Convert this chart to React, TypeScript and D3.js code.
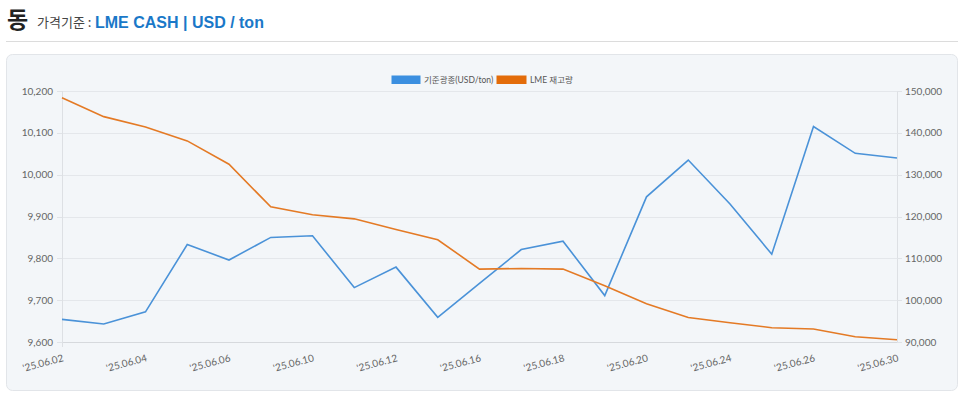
import React, { useEffect, useRef } from "react";
import * as d3 from "d3";

const dates = ["'25.06.02","'25.06.03","'25.06.04","'25.06.05","'25.06.06","'25.06.09","'25.06.10","'25.06.11","'25.06.12","'25.06.13","'25.06.16","'25.06.17","'25.06.18","'25.06.19","'25.06.20","'25.06.23","'25.06.24","'25.06.25","'25.06.26","'25.06.27","'25.06.30"];
const priceValues = [9654,9643,9672,9833,9796,9850,9854,9730,9779,9659,9740,9821,9841,9711,9947,10035,9930,9810,10115,10051,10040];
const stockValues = [148400,143870,141410,138070,132500,122300,120400,119440,116890,114430,107430,107570,107430,103440,99150,95850,94610,93410,93100,91270,90550];
const leftTicks = [9600,9700,9800,9900,10000,10100,10200];
const rightTicks = [90000,100000,110000,120000,130000,140000,150000];
const seriesNames = ["기준광종(USD/ton)", "LME 재고량"];

const W = 960, H = 395;
const FONT = "Lato, 'Noto Sans CJK KR', sans-serif";
const HFONT = "'Liberation Sans', 'Noto Sans CJK KR', sans-serif";

export default function App() {
  const ref = useRef<SVGSVGElement>(null);
  useEffect(() => {
    const svg = d3.select(ref.current);
    svg.selectAll("*").remove();
    const L = 62, R = 897, T = 91, B = 342;
    const x = d3.scalePoint<string>().domain(dates).range([L, R]);
    const yL = d3.scaleLinear().domain([9600, 10200]).range([B, T]);
    const yR = d3.scaleLinear().domain([90000, 150000]).range([B, T]);

    // header
    svg.append("text").attr("x", 7).attr("y", 28).attr("font-family", "'Noto Sans CJK KR', sans-serif").attr("font-size", 23).attr("font-weight", 700).attr("fill", "#222").text("동");
    svg.append("text").attr("x", 37).attr("y", 27).attr("font-family", "'Noto Sans CJK KR', sans-serif").attr("font-size", 13).attr("fill", "#444").text("가격기준 :");
    svg.append("text").attr("x", 95).attr("y", 28).attr("font-family", HFONT).attr("font-size", 16).attr("font-weight", 700).attr("fill", "#1a78c8").text("LME CASH | USD / ton");
    svg.append("line").attr("x1", 6).attr("x2", 958).attr("y1", 41.5).attr("y2", 41.5).attr("stroke", "#dcdcdc");

    // card
    svg.append("rect").attr("x", 6.5).attr("y", 54.5).attr("width", 951).attr("height", 336).attr("rx", 6).attr("fill", "#f3f6f9").attr("stroke", "#e2e5e9");

    // legend
    const lg = svg.append("g").attr("font-family", FONT).attr("font-size", 8.5).attr("fill", "#555");
    lg.append("rect").attr("x", 391.5).attr("y", 75.5).attr("width", 29).attr("height", 8.5).attr("fill", "#3b8fe0");
    lg.append("text").attr("x", 424).attr("y", 83).text(seriesNames[0]);
    lg.append("rect").attr("x", 496.5).attr("y", 75.5).attr("width", 30).attr("height", 8.5).attr("fill", "#e36c0a");
    lg.append("text").attr("x", 530).attr("y", 83).text(seriesNames[1]);

    // grid
    svg.append("g").selectAll("line").data(leftTicks).join("line")
      .attr("x1", L).attr("x2", R).attr("y1", d => Math.round(yL(d)) + 0.5).attr("y2", d => Math.round(yL(d)) + 0.5)
      .attr("stroke", d => d === 9600 ? "#d6d9dd" : "#e4e7eb");
    svg.append("line").attr("x1", L + 0.5).attr("x2", L + 0.5).attr("y1", T).attr("y2", B + 5).attr("stroke", "#dde0e4");
    svg.append("line").attr("x1", R + 0.5).attr("x2", R + 0.5).attr("y1", T).attr("y2", B).attr("stroke", "#dde0e4");
    svg.append("g").selectAll("line").data(leftTicks).join("line")
      .attr("x1", L - 5).attr("x2", L).attr("y1", d => Math.round(yL(d)) + 0.5).attr("y2", d => Math.round(yL(d)) + 0.5).attr("stroke", "#e0e3e7");
    svg.append("g").selectAll("line").data(rightTicks).join("line")
      .attr("x1", R).attr("x2", R + 5).attr("y1", d => Math.round(yR(d)) + 0.5).attr("y2", d => Math.round(yR(d)) + 0.5).attr("stroke", "#e0e3e7");

    const fmt = d3.format(",");
    svg.append("g").attr("font-family", FONT).attr("font-size", 10).attr("fill", "#666").attr("text-anchor", "end")
      .selectAll("text").data(leftTicks).join("text")
      .attr("x", L - 9).attr("y", d => yL(d) + 3.5).text(d => fmt(d));
    svg.append("g").attr("font-family", FONT).attr("font-size", 10).attr("fill", "#666")
      .selectAll("text").data(rightTicks).join("text")
      .attr("x", R + 8).attr("y", d => yR(d) + 3.5).text(d => fmt(d));

    const labelDates = dates.filter((_, i) => i % 2 === 0);
    svg.append("g").attr("font-family", FONT).attr("font-size", 10).attr("fill", "#666").attr("text-anchor", "end")
      .selectAll("text").data(labelDates).join("text")
      .attr("transform", d => `translate(${(x(d) as number) + 2},${361}) rotate(-15)`)
      .text(d => d);

    const line = (ys: number[], sc: d3.ScaleLinear<number, number>) =>
      d3.line<number>().x((_, i) => x(dates[i]) as number).y(v => sc(v))(ys);
    svg.append("path").attr("d", line(priceValues, yL)).attr("fill", "none").attr("stroke", "#4a92d8").attr("stroke-width", 1.6);
    svg.append("path").attr("d", line(stockValues, yR)).attr("fill", "none").attr("stroke", "#e47a25").attr("stroke-width", 1.6);
  }, []);
  return (
    <div style={{ position: "absolute", left: 0, top: 0, width: W, height: H, background: "#fff" }}>
      <svg ref={ref} width={W} height={H} />
    </div>
  );
}
